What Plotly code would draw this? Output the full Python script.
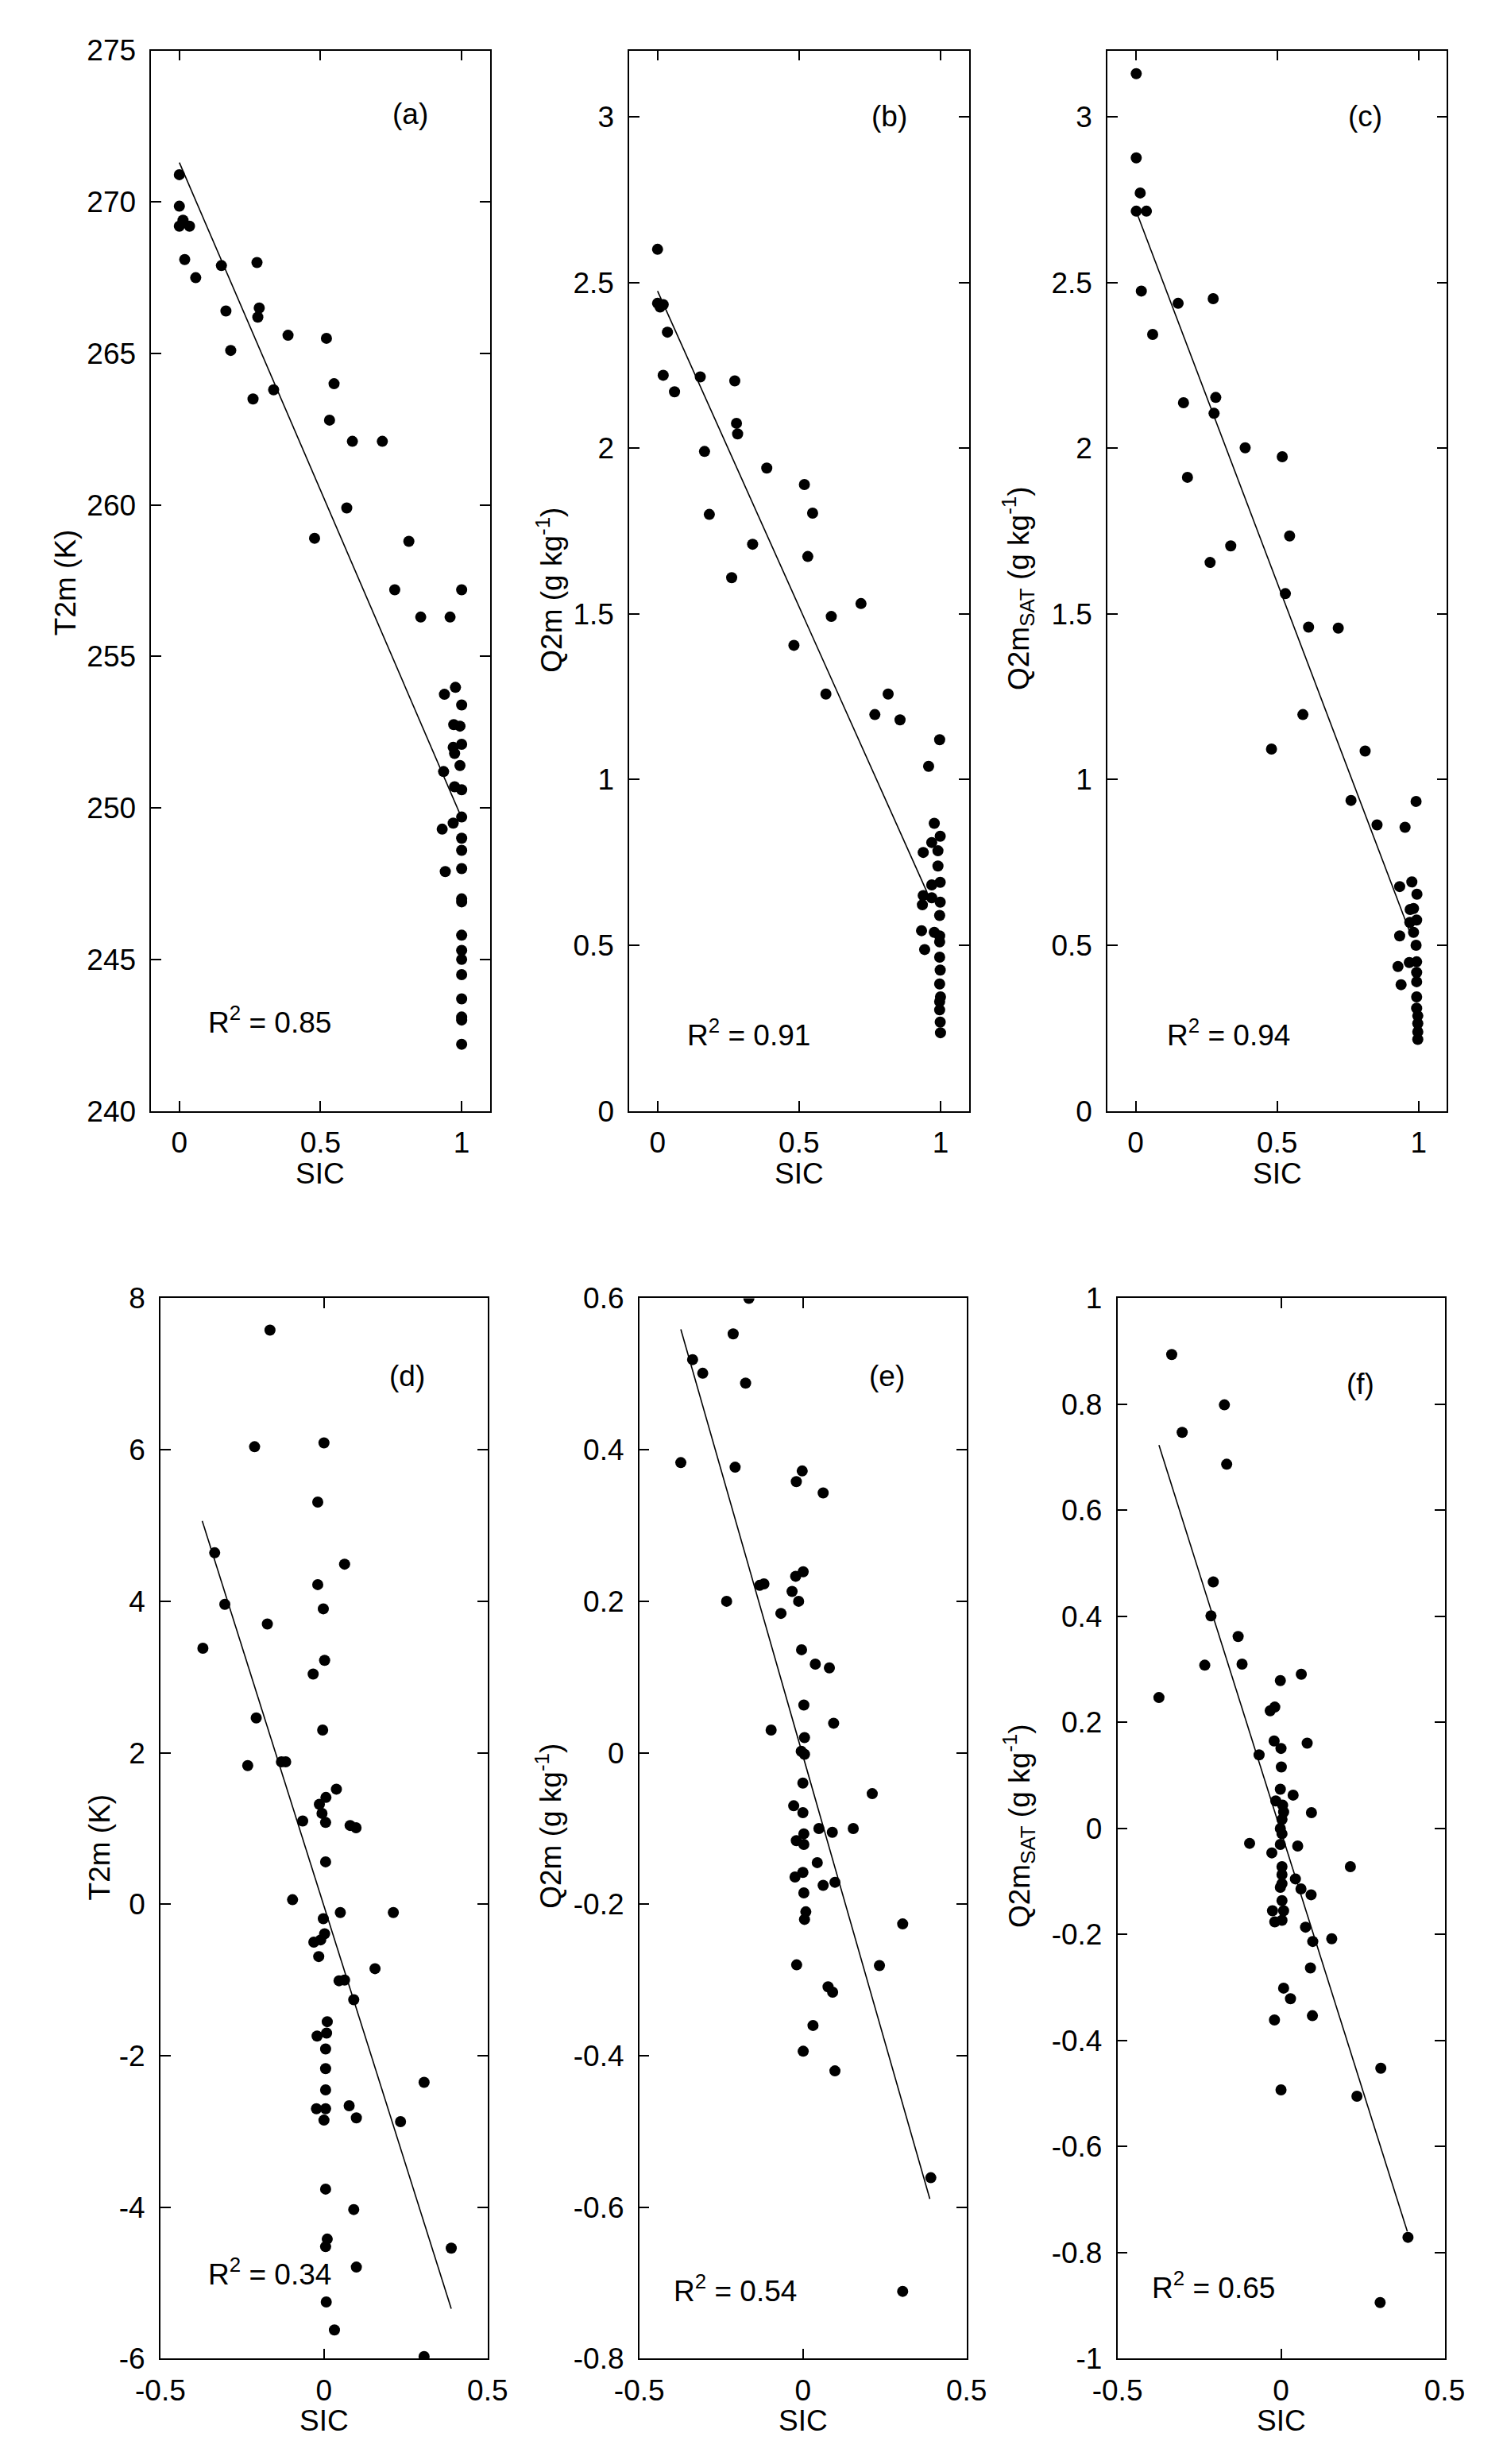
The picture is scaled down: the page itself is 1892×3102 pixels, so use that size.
import plotly.graph_objects as go

# page is 1892x3102; the html body adds an 8 px margin, so the figure is 8 px smaller
PAD = 8
W, H = 1892 - PAD, 3102 - PAD
FONT = "Liberation Sans, Arial, sans-serif"
FS = 37

# ---- data ----
# (a) T2m vs SIC
sic_a = [0.0, 0.0, 0.0, 0.013, 0.036, 0.019, 0.058, 0.149, 0.165, 0.182, 0.275, 0.283, 0.278,
         0.261, 0.334, 0.385, 0.521, 0.548, 0.532, 0.613, 0.719, 0.593, 0.479, 0.813, 0.763,
         0.855, 0.959, 1.0, 0.939, 0.978, 1.0, 0.972, 0.994, 0.97, 0.975, 1.0, 0.994, 0.936,
         0.975, 1.0, 0.97, 1.0, 0.931, 1.0, 1.0, 0.942, 1.0, 1.0, 1.0, 1.0, 1.0, 1.0, 1.0,
         1.0, 1.0, 1.0, 1.0]
t2m_a = [270.9, 269.86, 269.2, 269.4, 269.2, 268.1, 267.5, 267.9, 266.4, 265.1, 268.0, 266.5,
         266.2, 263.5, 263.8, 265.6, 265.5, 264.0, 262.8, 262.1, 262.1, 259.9, 258.9, 258.8,
         257.2, 256.3, 256.3, 257.2, 253.75, 253.98, 253.4, 252.75, 252.7, 252.0, 251.8,
         252.1, 251.4, 251.2, 250.7, 250.6, 249.5, 249.7, 249.3, 249.0, 248.6, 247.9, 248.0,
         247.0, 246.9, 245.8, 245.3, 245.0, 244.5, 243.7, 243.1, 243.0, 242.2]
fit_a_x = [0.0, 0.994]
fit_a_y = [271.3, 249.8]

# (b) Q2m vs SIC
sic_b = [0.0, 0.0, 0.009, 0.02, 0.035, 0.02, 0.06, 0.151, 0.166, 0.183, 0.273, 0.279, 0.283,
         0.262, 0.336, 0.386, 0.519, 0.548, 0.531, 0.614, 0.719, 0.595, 0.482, 0.815, 0.768,
         0.857, 0.958, 0.997, 0.939, 0.978, 0.999, 0.969, 0.991, 0.991, 0.969, 0.999, 0.939,
         0.936, 0.969, 0.999, 0.997, 0.933, 0.978, 0.997, 0.997, 0.944, 0.997, 0.999, 0.997,
         1.0, 0.997, 0.997, 0.999, 1.0]
q2m_b = [2.60, 2.437, 2.426, 2.433, 2.35, 2.22, 2.17, 2.215, 1.99, 1.80, 2.203, 2.075, 2.043,
         1.609, 1.71, 1.94, 1.89, 1.804, 1.673, 1.492, 1.531, 1.258, 1.405, 1.258, 1.196, 1.18,
         1.04, 1.12, 0.78, 0.868, 0.829, 0.81, 0.785, 0.739, 0.682, 0.69, 0.65, 0.622, 0.643,
         0.63, 0.59, 0.544, 0.539, 0.528, 0.51, 0.487, 0.464, 0.425, 0.383, 0.344, 0.33, 0.305,
         0.268, 0.236]
fit_b_x = [0.0, 0.952]
fit_b_y = [2.474, 0.661]

# (c) Q2m_SAT vs SIC
sic_c = [0.002, 0.002, 0.016, 0.002, 0.038, 0.02, 0.06, 0.15, 0.169, 0.183, 0.274, 0.283, 0.277,
         0.263, 0.336, 0.387, 0.518, 0.544, 0.529, 0.611, 0.716, 0.591, 0.48, 0.811, 0.761,
         0.853, 0.952, 0.991, 0.933, 0.976, 0.994, 0.982, 0.97, 0.993, 0.969, 0.933, 0.982,
         0.991, 0.967, 0.993, 0.927, 0.993, 0.993, 0.938, 0.993, 0.993, 0.997, 0.997, 0.997,
         0.997]
q2m_c = [3.13, 2.876, 2.77, 2.715, 2.715, 2.474, 2.343, 2.437, 2.137, 1.912, 2.451, 2.153, 2.105,
         1.655, 1.705, 2.001, 1.974, 1.735, 1.561, 1.46, 1.457, 1.196, 1.092, 1.086, 0.937,
         0.863, 0.856, 0.934, 0.677, 0.691, 0.654, 0.611, 0.608, 0.576, 0.569, 0.528, 0.539,
         0.5, 0.448, 0.45, 0.436, 0.418, 0.39, 0.381, 0.344, 0.31, 0.287, 0.264, 0.239, 0.216]
fit_c_x = [0.008, 0.974]
fit_c_y = [2.701, 0.528]

# (d) T2m anomaly vs SIC anomaly
sic_d = [-0.165, -0.212, 0.0, -0.019, -0.334, 0.063, -0.019, -0.002, -0.303, -0.173, -0.37,
         0.002, -0.033, -0.004, -0.207, -0.233, -0.13, -0.117, 0.038, 0.006, -0.014, -0.006,
         0.005, -0.065, 0.08, 0.098, 0.005, -0.096, -0.002, 0.05, 0.212, 0.002, -0.031, -0.01,
         -0.016, 0.156, 0.046, 0.063, 0.091, 0.01, 0.008, -0.021, 0.005, 0.005, 0.005, -0.023,
         0.005, 0.0, 0.077, 0.099, 0.234, 0.306, 0.005, 0.091, 0.01, 0.005, 0.389, 0.099,
         0.007, 0.032, 0.306]
t2m_d = [7.58, 6.04, 6.09, 5.31, 4.64, 4.49, 4.22, 3.90, 3.96, 3.70, 3.38, 3.22, 3.04, 2.30,
         2.46, 1.83, 1.88, 1.88, 1.52, 1.41, 1.32, 1.20, 1.08, 1.10, 1.04, 1.01, 0.56, 0.06,
         -0.19, -0.11, -0.11, -0.39, -0.50, -0.47, -0.69, -0.85, -1.01, -1.00, -1.26, -1.55,
         -1.70, -1.74, -1.91, -2.17, -2.45, -2.70, -2.70, -2.85, -2.66, -2.82, -2.87, -2.35,
         -3.76, -4.03, -4.42, -4.52, -4.54, -4.79, -5.25, -5.62, -5.97]
fit_d_x = [-0.372, 0.389]
fit_d_y = [5.06, -5.34]

# (e) Q2m anomaly vs SIC anomaly
sic_e = [-0.165, -0.213, -0.337, -0.306, -0.175, -0.373, -0.207, -0.002, -0.02, 0.062, 0.001,
         -0.022, -0.132, -0.119, -0.033, -0.013, -0.233, -0.067, -0.004, 0.038, 0.081, 0.003,
         0.094, -0.097, 0.005, -0.005, 0.005, 0.0, 0.212, -0.028, 0.0, 0.049, 0.09, 0.154,
         0.003, -0.02, 0.003, 0.044, 0.0, -0.024, 0.062, 0.098, 0.003, 0.009, 0.005, 0.305,
         -0.019, 0.234, 0.077, 0.091, 0.031, 0.001, 0.098, 0.391, 0.305]
q2m_e = [0.60, 0.553, 0.519, 0.501, 0.488, 0.383, 0.377, 0.372, 0.358, 0.343, 0.239, 0.233,
         0.221, 0.223, 0.213, 0.20, 0.20, 0.184, 0.136, 0.117, 0.112, 0.063, 0.039, 0.03,
         0.02, 0.002, -0.002, -0.04, -0.054, -0.07, -0.079, -0.10, -0.105, -0.10, -0.107,
         -0.116, -0.121, -0.145, -0.158, -0.164, -0.175, -0.171, -0.185, -0.21, -0.22, -0.226,
         -0.28, -0.281, -0.309, -0.316, -0.36, -0.394, -0.42, -0.561, -0.711]
fit_e_x = [-0.373, 0.388]
fit_e_y = [0.559, -0.589]

# (f) Q2m_SAT anomaly vs SIC anomaly
sic_f = [-0.334, -0.173, -0.302, -0.166, -0.207, -0.214, -0.131, -0.119, -0.233, -0.373,
         -0.002, 0.062, -0.019, -0.033, -0.021, 0.0, 0.08, -0.067, 0.001, -0.002, 0.037,
         -0.016, 0.005, 0.008, 0.093, 0.003, -0.002, 0.003, -0.096, -0.002, 0.051, -0.028,
         0.212, 0.003, 0.003, 0.044, 0.003, -0.002, 0.061, 0.092, 0.003, -0.026, 0.008, 0.003,
         -0.019, 0.075, 0.097, 0.155, 0.09, 0.008, 0.029, 0.096, -0.02, 0.305, 0.0, 0.232,
         0.388, 0.303]
q2m_f = [0.894, 0.799, 0.747, 0.687, 0.465, 0.401, 0.362, 0.31, 0.308, 0.247, 0.279, 0.291,
         0.229, 0.222, 0.165, 0.151, 0.161, 0.139, 0.116, 0.074, 0.063, 0.052, 0.044, 0.031,
         0.03, 0.017, 0.0, -0.01, -0.028, -0.03, -0.033, -0.046, -0.072, -0.072, -0.087,
         -0.095, -0.104, -0.111, -0.114, -0.125, -0.136, -0.155, -0.155, -0.173, -0.176,
         -0.186, -0.213, -0.208, -0.263, -0.301, -0.321, -0.353, -0.361, -0.452, -0.493,
         -0.505, -0.771, -0.894]
fit_f_x = [-0.373, 0.386]
fit_f_y = [0.723, -0.760]

r2_text = ["0.85", "0.91", "0.94", "0.34", "0.54", "0.65"]
panel_tags = ["(a)", "(b)", "(c)", "(d)", "(e)", "(f)"]
ylabels = ["T2m (K)", "Q2m (g kg<sup>-1</sup>)", "Q2m<sub>SAT</sub> (g kg<sup>-1</sup>)",
           "T2m (K)", "Q2m (g kg<sup>-1</sup>)", "Q2m<sub>SAT</sub> (g kg<sup>-1</sup>)"]

xt_top = [0, 0.5, 1]
xt_top_txt = ["0", "0.5", "1"]
xt_bot = [-0.5, 0, 0.5]
xt_bot_txt = ["-0.5", "0", "0.5"]
yt_a = [240, 245, 250, 255, 260, 265, 270, 275]
yt_b = [0, 0.5, 1, 1.5, 2, 2.5, 3]
yt_b_txt = ["0", "0.5", "1", "1.5", "2", "2.5", "3"]
yt_d = [-6, -4, -2, 0, 2, 4, 6, 8]
yt_e = [-0.8, -0.6, -0.4, -0.2, 0, 0.2, 0.4, 0.6]
yt_e_txt = ["-0.8", "-0.6", "-0.4", "-0.2", "0", "0.2", "0.4", "0.6"]
yt_f = [-1, -0.8, -0.6, -0.4, -0.2, 0, 0.2, 0.4, 0.6, 0.8, 1]
yt_f_txt = ["-1", "-0.8", "-0.6", "-0.4", "-0.2", "0", "0.2", "0.4", "0.6", "0.8", "1"]


def fx(px):
    return (px - PAD) / W


def fy(py):
    return 1 - (py - PAD) / H


# ---- layout geometry (pixels in the page) ----
top_y = (44, 1397)
bot_y = (1636, 2989)
panels = [
    dict(px=(163, 603), py=top_y, xr=[-0.1, 1.1], yr=[240, 275], xt=xt_top, xtt=xt_top_txt,
         yt=yt_a, ytt=[str(v) for v in yt_a], tag=(0.818, 272.9), r2=(0.32, 243.0),
         ylx=52, yly=723, x=sic_a, y=t2m_a, fx=fit_a_x, fy=fit_a_y),
    dict(px=(784, 1225), py=top_y, xr=[-0.1, 1.1], yr=[0, 3.2], xt=xt_top, xtt=xt_top_txt,
         yt=yt_b, ytt=yt_b_txt, tag=(0.818, 3.0), r2=(0.321, 0.236),
         ylx=681, yly=732, x=sic_b, y=q2m_b, fx=fit_b_x, fy=fit_b_y),
    dict(px=(1405, 1846), py=top_y, xr=[-0.1, 1.1], yr=[0, 3.2], xt=xt_top, xtt=xt_top_txt,
         yt=yt_b, ytt=yt_b_txt, tag=(0.811, 3.0), r2=(0.327, 0.236),
         ylx=1289, yly=730, x=sic_c, y=q2m_c, fx=fit_c_x, fy=fit_c_y),
    dict(px=(175, 600), py=bot_y, xr=[-0.5, 0.5], yr=[-6, 8], xt=xt_bot, xtt=xt_bot_txt,
         yt=yt_d, ytt=[str(v) for v in yt_d], tag=(0.255, 6.97), r2=(-0.166, -4.86),
         ylx=96, yly=2336, x=sic_d, y=t2m_d, fx=fit_d_x, fy=fit_d_y),
    dict(px=(797, 1222), py=bot_y, xr=[-0.5, 0.5], yr=[-0.8, 0.6], xt=xt_bot, xtt=xt_bot_txt,
         yt=yt_e, ytt=yt_e_txt, tag=(0.257, 0.497), r2=(-0.207, -0.708),
         ylx=680, yly=2309, x=sic_e, y=q2m_e, fx=fit_e_x, fy=fit_e_y),
    dict(px=(1418, 1843), py=bot_y, xr=[-0.5, 0.5], yr=[-1, 1], xt=xt_bot, xtt=xt_bot_txt,
         yt=yt_f, ytt=yt_f_txt, tag=(0.242, 0.838), r2=(-0.207, -0.862),
         ylx=1290, yly=2309, x=sic_f, y=q2m_f, fx=fit_f_x, fy=fit_f_y),
]

fig = go.Figure()
axis_common = dict(
    ticks="inside", ticklen=13, tickwidth=1.5, tickcolor="black",
    showline=True, linecolor="black", linewidth=1.5, mirror="ticks",
    showgrid=False, zeroline=False,
    tickfont=dict(family=FONT, size=FS, color="black"),
)
f_txt = dict(family=FONT, size=FS, color="black")
annotations = []
layout_axes = {}

for i, p in enumerate(panels):
    n = "" if i == 0 else str(i + 1)
    xa, ya = "x" + n, "y" + n
    fig.add_trace(go.Scatter(x=p["x"], y=p["y"], mode="markers", xaxis=xa, yaxis=ya,
                             marker=dict(size=14, color="black"), showlegend=False))
    fig.add_trace(go.Scatter(x=p["fx"], y=p["fy"], mode="lines", xaxis=xa, yaxis=ya,
                             line=dict(color="black", width=1.6), showlegend=False))
    layout_axes["xaxis" + n] = dict(axis_common, domain=[fx(p["px"][0]), fx(p["px"][1])],
                                    range=p["xr"], tickvals=p["xt"], ticktext=p["xtt"],
                                    anchor=ya, ticklabelstandoff=6)
    layout_axes["yaxis" + n] = dict(axis_common, domain=[fy(p["py"][1]), fy(p["py"][0])],
                                    range=p["yr"], tickvals=p["yt"], ticktext=p["ytt"],
                                    anchor=xa, ticklabelstandoff=10)
    annotations.append(dict(xref=xa, yref=ya, x=p["tag"][0], y=p["tag"][1], text=panel_tags[i],
                            showarrow=False, font=f_txt, xanchor="center", yanchor="middle"))
    annotations.append(dict(xref=xa, yref=ya, x=p["r2"][0], y=p["r2"][1],
                            text="R<sup>2</sup> = " + r2_text[i],
                            showarrow=False, font=f_txt, xanchor="center", yanchor="middle"))
    annotations.append(dict(xref="paper", yref="paper", x=fx(p["ylx"]), y=fy(p["yly"]),
                            text=ylabels[i], textangle=-90, showarrow=False, font=f_txt,
                            xanchor="center", yanchor="middle"))
    sic_y = 1477 if i < 3 else 3068
    annotations.append(dict(xref="paper", yref="paper",
                            x=fx((p["px"][0] + p["px"][1]) / 2), y=fy(sic_y),
                            text="SIC", showarrow=False, font=f_txt,
                            xanchor="center", yanchor="middle"))

fig.update_layout(
    width=W, height=H,
    margin=dict(l=0, r=0, t=0, b=0),
    paper_bgcolor="white", plot_bgcolor="white",
    annotations=annotations,
    font=dict(family=FONT, size=FS, color="black"),
    **layout_axes,
)

fig.write_html("out.html")
